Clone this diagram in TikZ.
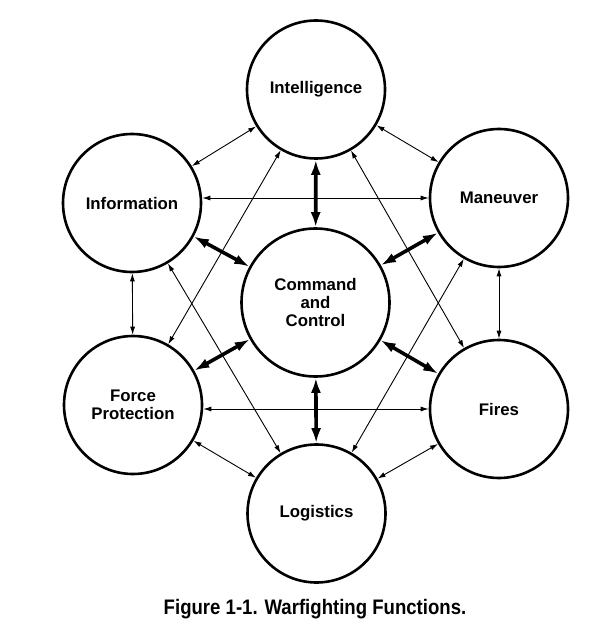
\documentclass[tikz,border=0pt]{standalone}
\usepackage{fontspec}
\setmainfont{Liberation Sans}
\newfontfamily\capfont{Liberation Sans}[FakeStretch=0.885]
\usetikzlibrary{arrows.meta,calc}
\begin{document}
\begin{tikzpicture}[x=1pt,y=-1pt,
  func/.style={circle,draw,line width=2.6pt,minimum size=138pt,inner sep=0pt,align=center,
    font=\fontsize{16.8}{18}\selectfont\bfseries},
  thin/.style={line width=0.9pt,{Latex[length=8pt,width=5pt]}-{Latex[length=8pt,width=5pt]}},
  thick/.style={line width=3.6pt,{Latex[length=15pt,width=10pt]}-{Latex[length=15pt,width=10pt]}}]
\useasboundingbox (0,0) rectangle (610,636);
\fill[white] (0,0) rectangle (610,636);
\node[func] (intel) at (316,89.5) {Intelligence};
\node[func] (info) at (132,203) {Information};
\node[func] (man) at (499,198) {Maneuver};
\node[func,minimum size=148pt] (c2) at (315.5,302.5) {Command\\and\\Control};
\node[func] (fp) at (133,405) {Force\\Protection};
\node[func] (fires) at (499,409) {Fires};
\node[func] (log) at (316.5,513.5) {Logistics};
\node[anchor=base,font=\capfont\fontsize{21}{23}\selectfont\bfseries] (cap) at (315,614.5) {Figure 1-1. Warfighting Functions.};
% thin connections
\draw[thin] (intel) -- (info);
\draw[thin] (intel) -- (man);
\draw[thin] (man.west) -- (man.west -| info.east);
\draw[thin] (info) -- (fp);
\draw[thin] (man) -- (fires);
\draw[thin] (intel) -- (fp);
\draw[thin] (intel) -- (fires);
\draw[thin] (info) -- (log);
\draw[thin] (man) -- (log);
\draw[thin] (fires.west) -- (fires.west -| fp.east);
\draw[thin] (fp) -- (log);
\draw[thin] (fires) -- (log);
% thick connections to C2
\draw[thick] (intel) -- (c2);
\draw[thick] (info) -- (c2);
\draw[thick] (man) -- (c2);
\draw[thick] (fp) -- (c2);
\draw[thick] (fires) -- (c2);
\draw[thick] (log) -- (c2);
\end{tikzpicture}
\end{document}
